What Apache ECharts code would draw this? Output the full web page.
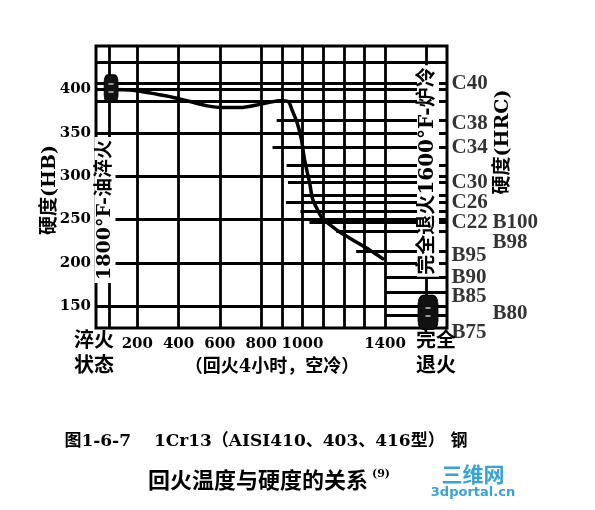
<!DOCTYPE html>
<html>
<head>
<meta charset="utf-8">
<style>html,body{margin:0;padding:0;background:#fff;}#c{width:595px;height:510px;}</style>
<script src="https://cdn.jsdelivr.net/npm/echarts@6/dist/echarts.min.js"></script>
</head>
<body>
<div id="c"></div>
<script>
// ---- data ----
const xTickLabels = [200, 400, 600, 800, 1000, 1400];
const yTickLabels = [150, 200, 250, 300, 350, 400];
const tempF = [70, 180, 370, 455, 540, 615, 700, 780, 840, 890, 930, 950, 975, 995, 1010, 1035, 1050, 1080, 1095, 1165, 1240, 1325, 1395];
const hardnessHB = [400, 399, 391, 386, 381, 379, 379, 382, 385, 387, 386, 376, 361, 342, 319, 292, 273, 258, 252, 238, 227, 215, 204];
const quenchPoint = [73, 401];
const annealPoint = [1608, 143];
const hrcLabels = ['C40', 'C38', 'C34', 'C30', 'C26', 'C22', 'B95', 'B90', 'B85', 'B75'];
const hrcHB = [407, 361, 333, 293, 270, 247, 209, 183, 161, 120];
const hrbOuterLabels = ['B100', 'B98', 'B80'];
const hrbOuterHB = [247, 223, 142];
const gridF = [65, 200, 400, 600, 800, 900, 1000, 1100, 1200, 1300, 1400, 1600];
const gridHB = [431, 407, 400, 386, 350, 300, 250, 200, 150];
const partialHB = [365, 333, 313, 293, 278, 270, 259, 247, 236, 213, 184, 166, 140];
const partialFromF = [875, 855, 923, 930, 1000, 920, 990, 1034, 1164, 1260, 1405, 1405, 1405];

const X_MIN = 0, X_MAX = 1700, Y_MIN = 125, Y_MAX = 450;
const numFont = 'DejaVu Serif, Noto Sans CJK SC';
const cjk = 'DejaVu Serif, Noto Sans CJK SC';

const lineData = [];
gridF.forEach(f => lineData.push([{coord: [f, Y_MIN]}, {coord: [f, Y_MAX]}]));
gridHB.forEach(h => lineData.push([{coord: [X_MIN, h]}, {coord: [X_MAX, h]}]));
partialHB.forEach((h, i) => lineData.push([{coord: [partialFromF[i], h]}, {coord: [X_MAX, h]}]));

const chart = echarts.init(document.getElementById('c'), null, {renderer: 'canvas'});

function txt(text, x, y, size, opts) {
  opts = opts || {};
  return {
    type: 'text', x: x, y: y, z: 100, rotation: opts.rot || 0,
    style: {
      text: text, fill: opts.color || '#000',
      font: 'bold ' + size + 'px ' + (opts.family || cjk),
      textAlign: opts.align || 'center', textVerticalAlign: 'middle',
      backgroundColor: opts.bg || null, padding: opts.pad || 0
    }
  };
}

chart.setOption({
  animation: false,
  backgroundColor: '#fff',
  grid: {left: 96, right: 148, top: 46, bottom: 182, show: true, borderColor: '#000', borderWidth: 3, backgroundColor: 'transparent', containLabel: false},
  xAxis: {
    type: 'value', min: X_MIN, max: X_MAX, interval: 200,
    axisLine: {show: false}, axisTick: {show: false}, splitLine: {show: false},
    axisLabel: {
      color: '#000', fontFamily: numFont, fontWeight: 'bold', fontSize: 15, margin: 9,
      formatter: v => xTickLabels.indexOf(v) >= 0 ? String(v) : ''
    }
  },
  yAxis: {
    type: 'value', min: Y_MIN, max: Y_MAX, interval: 25,
    axisLine: {show: false}, axisTick: {show: false}, splitLine: {show: false},
    axisLabel: {
      color: '#000', fontFamily: numFont, fontWeight: 'bold', fontSize: 15, margin: 5,
      formatter: v => yTickLabels.indexOf(v) >= 0 ? String(v) : ''
    }
  },
  series: [
    {
      type: 'line', data: [], silent: true,
      markLine: {
        silent: true, symbol: ['none', 'none'], animation: false,
        label: {show: false},
        lineStyle: {color: '#000', width: 2.8, type: 'solid'},
        emphasis: {disabled: true},
        data: lineData
      }
    },
    {
      type: 'line', smooth: 0.3, symbol: 'none',
      data: tempF.map((f, i) => [f, hardnessHB[i]]),
      lineStyle: {color: '#000', width: 3.5}, z: 5
    },
    {
      type: 'scatter', symbol: 'roundRect', z: 6,
      data: [
        {value: quenchPoint, symbolSize: [14, 27]},
        {value: annealPoint, symbolSize: [20, 34]}
      ],
      itemStyle: {color: '#111', borderColor: '#000', borderWidth: 1, opacity: 1},
      label: {show: true, position: 'inside', formatter: '═\n═', color: '#fff', fontSize: 7, lineHeight: 8}
    },
    {
      type: 'scatter', clip: false, symbolSize: 1, itemStyle: {color: 'rgba(0,0,0,0)'},
      data: hrcHB.map(v => [X_MAX, v]),
      label: {
        show: true, position: 'right', distance: 4, color: '#000',
        fontFamily: 'Liberation Serif', fontWeight: 'bold', fontSize: 21,
        formatter: p => hrcLabels[p.dataIndex]
      }
    },
    {
      type: 'scatter', clip: false, symbolSize: 1, itemStyle: {color: 'rgba(0,0,0,0)'},
      data: hrbOuterHB.map(v => [X_MAX, v]),
      label: {
        show: true, position: 'right', color: '#000',
        fontFamily: 'Liberation Serif', fontWeight: 'bold', fontSize: 21,
        distance: 45,
        formatter: p => hrbOuterLabels[p.dataIndex]
      }
    }
  ],
  graphic: [
    txt('硬度(HB)', 50, 190, 19, {rot: Math.PI / 2}),
    txt('硬度(HRC)', 503, 142, 19, {rot: Math.PI / 2}),
    txt('1800°F-油淬火', 105, 210, 19, {rot: Math.PI / 2, bg: '#fff', pad: [1, 3]}),
    txt('完全退火1600°F-炉冷', 428, 171, 20, {rot: Math.PI / 2, bg: '#fff', pad: [1, 2]}),
    txt('淬火', 94, 342, 20),
    txt('状态', 94, 367, 20),
    txt('完全', 436, 342, 20),
    txt('退火', 436, 367, 20),
    txt('（回火4小时，空冷）', 272, 367, 18),
    txt('图1-6-7　 1Cr13（AISI410、403、416型） 钢', 266, 442, 17),
    txt('回火温度与硬度的关系', 258, 482, 22),
    txt('(9)', 372, 474, 11, {align: 'left'}),
    txt('三维网', 473, 477, 21, {color: '#35a3d9'}),
    txt('3dportal.cn', 473, 493, 13, {color: '#35a3d9', family: 'DejaVu Sans'})
  ]
});
</script>
</body>
</html>
